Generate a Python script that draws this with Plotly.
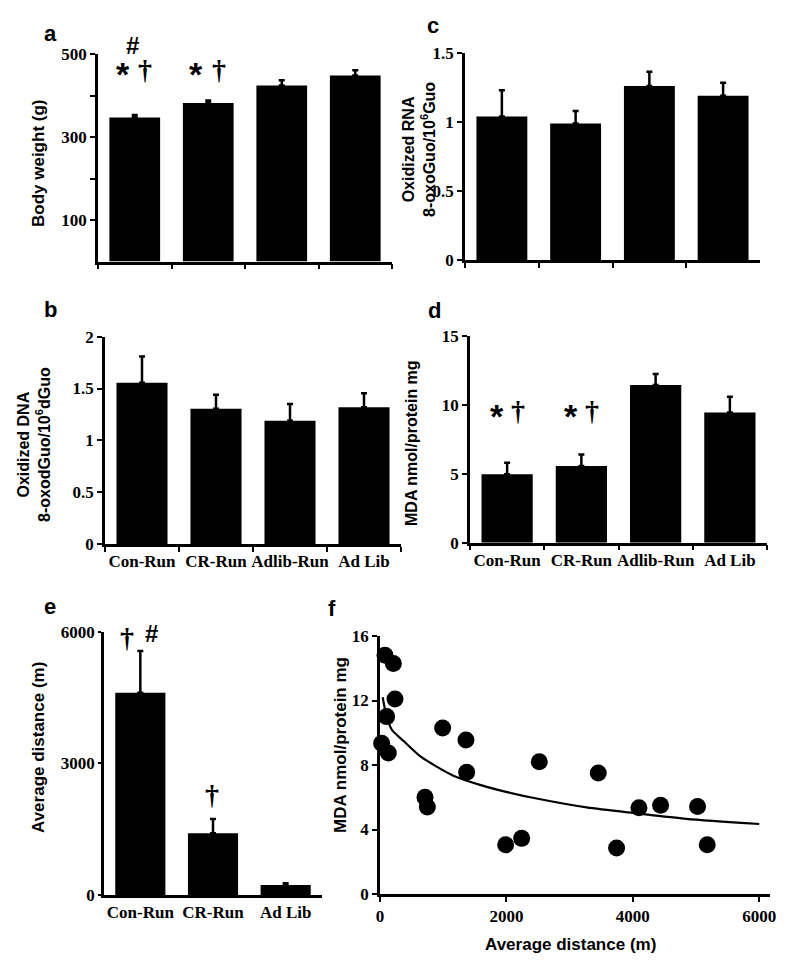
import plotly.graph_objects as go

W, H = 800, 966
def fx(p): return p / W
def fy(p): return 1 - p / H

# ---------------- data ----------------
groups4 = ["Con-Run", "CR-Run", "Adlib-Run", "Ad Lib"]
groups3 = ["Con-Run", "CR-Run", "Ad Lib"]

body_weight = [347, 382, 424, 448]
body_weight_err = [6, 6, 13, 13]

oxidized_rna = [1.04, 0.99, 1.26, 1.19]
oxidized_rna_err = [0.19, 0.09, 0.105, 0.095]

oxidized_dna = [1.555, 1.305, 1.19, 1.32]
oxidized_dna_err = [0.255, 0.135, 0.16, 0.135]

mda = [4.96, 5.56, 11.45, 9.45]
mda_err = [0.85, 0.84, 0.8, 1.15]

avg_distance = [4608, 1405, 228]
avg_distance_err = [950, 326, 38]

scatter_distance = [79, 211, 237, 105, 26, 132, 991, 1360, 1371, 712, 749,
                    2520, 1988, 2241, 3453, 3743, 4097, 4439, 5024, 5177]
scatter_mda = [14.8, 14.3, 12.1, 11.0, 9.35, 8.75, 10.3, 9.55, 7.55, 6.0, 5.4,
               8.2, 3.05, 3.45, 7.5, 2.85, 5.35, 5.5, 5.43, 3.05]

fit_distance = [42, 100, 185, 369, 633, 896, 1160, 1582, 1898, 2478, 3269, 4060, 4850, 6000]
fit_mda = [12.2, 11.1, 10.2, 9.5, 8.55, 7.9, 7.34, 6.77, 6.43, 5.92, 5.37, 5.0, 4.66, 4.34]

# ---------------- figure ----------------
fig = go.Figure()

tickfont = dict(family="Liberation Serif", size=17, color="black", weight=700)
catfont = dict(family="Liberation Serif", size=17, color="black", weight=700)

def bar(xa, ya, cats, vals, errs):
    fig.add_trace(go.Bar(
        x=cats, y=vals, xaxis=xa, yaxis=ya,
        marker=dict(color="black", line=dict(width=0)),
        error_y=dict(type="data", symmetric=False, array=errs,
                     arrayminus=[0] * len(errs), color="black",
                     thickness=2.5, width=3),
        hoverinfo="skip", showlegend=False))

bar("x", "y", groups4, body_weight, body_weight_err)
bar("x2", "y2", groups4, oxidized_rna, oxidized_rna_err)
bar("x3", "y3", groups4, oxidized_dna, oxidized_dna_err)
bar("x4", "y4", groups4, mda, mda_err)
bar("x5", "y5", groups3, avg_distance, avg_distance_err)

fig.add_trace(go.Scatter(
    x=fit_distance, y=fit_mda, xaxis="x6", yaxis="y6", mode="lines",
    line=dict(color="black", width=2.2, shape="spline", smoothing=0.7),
    hoverinfo="skip", showlegend=False))
fig.add_trace(go.Scatter(
    x=scatter_distance, y=scatter_mda, xaxis="x6", yaxis="y6", mode="markers",
    marker=dict(color="black", size=17, line=dict(width=0)),
    cliponaxis=False, hoverinfo="skip", showlegend=False))

def axstyle(**kw):
    d = dict(showline=True, linecolor="black", linewidth=2.5, ticks="outside",
             tickcolor="black", tickwidth=2, ticklen=5, showgrid=False,
             zeroline=False, tickfont=tickfont, fixedrange=True, automargin=False)
    d.update(kw)
    return d

def xdom(a, b): return [fx(a), fx(b)]
def ydom(top, bottom): return [fy(bottom), fy(top)]

layout = dict(
    width=W, height=H, autosize=False,
    margin=dict(l=0, r=0, t=0, b=0, pad=0, autoexpand=False),
    paper_bgcolor="white", plot_bgcolor="white", bargap=0.31,
    # a
    xaxis=axstyle(domain=xdom(98, 392), anchor="y", type="category",
                  range=[-0.5, 3.5], tickson="boundaries", showticklabels=False),
    yaxis=axstyle(domain=ydom(54, 261.5), anchor="x", range=[0, 500],
                  tickvals=[100, 300, 500],
                  minor=dict(tickvals=[200, 400], ticks="outside", ticklen=5,
                             tickwidth=2, tickcolor="black", showgrid=False)),
    # c
    xaxis2=axstyle(domain=xdom(465, 760), anchor="y2", type="category",
                   range=[-0.5, 3.5], tickson="boundaries", showticklabels=False),
    yaxis2=axstyle(domain=ydom(53, 260), anchor="x2", range=[0, 1.5],
                   tickvals=[0, 0.5, 1, 1.5], ticktext=["0", "0.5", "1", "1.5"]),
    # b
    xaxis3=axstyle(domain=xdom(105, 401), anchor="y3", type="category",
                   range=[-0.5, 3.5], tickson="boundaries", tickfont=catfont,
                   tickangle=0),
    yaxis3=axstyle(domain=ydom(336.7, 544), anchor="x3", range=[0, 2],
                   tickvals=[0, 0.5, 1, 1.5, 2], ticktext=["0", "0.5", "1", "1.5", "2"]),
    # d
    xaxis4=axstyle(domain=xdom(470, 767), anchor="y4", type="category",
                   range=[-0.5, 3.5], tickson="boundaries", tickfont=catfont,
                   tickangle=0),
    yaxis4=axstyle(domain=ydom(336, 542.7), anchor="x4", range=[0, 15],
                   tickvals=[0, 5, 10, 15]),
    # e
    xaxis5=axstyle(domain=xdom(104, 322), anchor="y5", type="category",
                   range=[-0.5, 2.5], ticks="", tickfont=catfont, tickangle=0),
    yaxis5=axstyle(domain=ydom(631.7, 895), anchor="x5", range=[0, 6000],
                   tickvals=[0, 3000, 6000], ticklen=3),
    # f
    xaxis6=axstyle(domain=xdom(380, 770), anchor="y6", range=[0, 6170],
                   tickvals=[0, 2000, 4000, 6000]),
    yaxis6=axstyle(domain=ydom(636, 894), anchor="x6", range=[0, 16],
                   tickvals=[0, 4, 8, 12, 16]),
)
fig.update_layout(**layout)

ann = []
def text_at(t, x, y, size, fam="Liberation Sans", angle=0):
    ann.append(dict(text=t, x=fx(x), y=fy(y), xref="paper", yref="paper",
                    showarrow=False, xanchor="center", yanchor="middle", textangle=angle,
                    font=dict(family=fam, size=size, color="black")))

# panel letters
for t, x, y in [("a", 50, 33), ("c", 433, 26), ("b", 50, 309),
                ("d", 435, 310), ("e", 50, 606), ("f", 332, 608)]:
    text_at("<b>%s</b>" % t, x, y, 22)

# axis titles
text_at("<b>Body weight (g)</b>", 38, 164, 17, angle=-90)
text_at("<b>Oxidized RNA<br>8-oxoGuo/10<sup>6</sup>Guo</b>", 419, 150, 16, angle=-90)
text_at("<b>Oxidized DNA<br>8-oxodGuo/10<sup>6</sup>dGuo</b>", 34, 445, 16, angle=-90)
text_at("<b>MDA nmol/protein mg</b>", 411, 443, 16, angle=-90)
text_at("<b>Average distance (m)</b>", 38, 748, 17, angle=-90)
text_at("<b>MDA nmol/protein mg</b>", 340, 745, 17, angle=-90)
text_at("<b>Average distance (m)</b>", 570, 944, 17)

# significance marks
text_at("<b>#</b>", 132, 45, 24)
def sym(t, xr, yr, x, y, size, fam="Liberation Sans"):
    ann.append(dict(text="<b>%s</b>" % t, x=x, y=y, xref=xr, yref=yr, showarrow=False,
                    xanchor="center", yanchor="middle",
                    font=dict(family=fam, size=size, color="black")))

sym("*", "x", "y", -0.16, 452, 34)
sym("†", "x", "y", 0.14, 462, 28, "Liberation Serif")
sym("*", "x", "y", 0.84, 452, 34)
sym("†", "x", "y", 1.14, 462, 28, "Liberation Serif")
sym("*", "x4", "y4", -0.14, 9.2, 34)
sym("†", "x4", "y4", 0.14, 9.6, 28, "Liberation Serif")
sym("*", "x4", "y4", 0.86, 9.2, 34)
sym("†", "x4", "y4", 1.14, 9.6, 28, "Liberation Serif")
sym("†", "x5", "y5", -0.18, 5870, 28, "Liberation Serif")
sym("#", "x5", "y5", 0.15, 5950, 24)
sym("†", "x5", "y5", 0.98, 2300, 28, "Liberation Serif")

fig.update_layout(annotations=ann)
fig.write_html("out.html", config={"displayModeBar": False},
               post_script="document.body.style.margin='0';document.body.style.overflow='hidden';")
